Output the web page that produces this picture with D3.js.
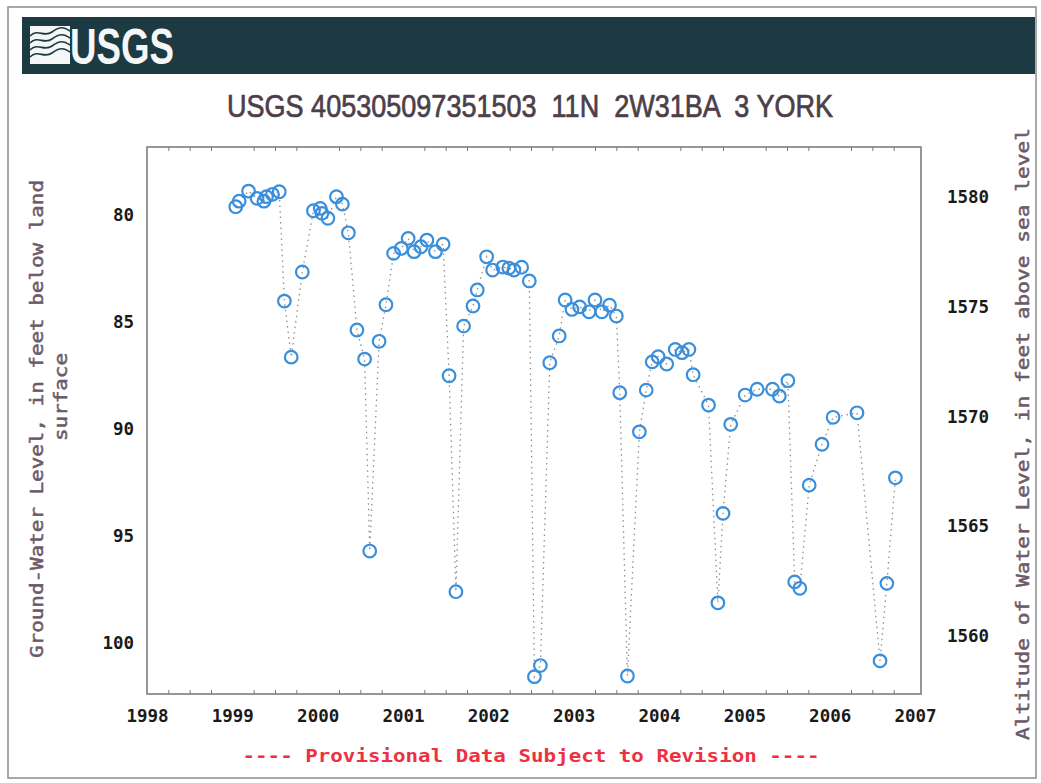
<!DOCTYPE html>
<html>
<head>
<meta charset="utf-8">
<script src="https://cdn.jsdelivr.net/npm/d3@7"></script>
<style>
  html, body { margin: 0; padding: 0; background: #fff; }
  svg { display: block; }
  text { white-space: pre; }
</style>
</head>
<body>
<svg id="chart" width="1041" height="783"></svg>
<script>
// Well 405305097351503 (11N 2W31BA 3 YORK) - ground-water level measurements
const siteTitle = "USGS 405305097351503  11N  2W31BA  3 YORK";
const leftAxisTitle = ["Ground-Water Level, in feet below land", "surface"];
const rightAxisTitle = "Altitude of Water Level, in feet above sea level";
const footerText = "---- Provisional Data Subject to Revision ----";

// Measurement dates (decimal years) and depth to water, feet below land surface
const measDates = [
  1999.04, 1999.08, 1999.19, 1999.29, 1999.37, 1999.40, 1999.47, 1999.55,
  1999.61, 1999.69, 1999.82, 1999.95, 2000.03, 2000.05, 2000.12, 2000.22,
  2000.29, 2000.36, 2000.46, 2000.55, 2000.61, 2000.72, 2000.80, 2000.89,
  2000.98, 2001.06, 2001.13, 2001.21, 2001.28, 2001.38, 2001.47, 2001.54,
  2001.62, 2001.71, 2001.82, 2001.87, 2001.98, 2002.05, 2002.17, 2002.24,
  2002.30, 2002.39, 2002.48, 2002.54, 2002.61, 2002.72, 2002.83, 2002.90,
  2002.98, 2003.07, 2003.18, 2003.25, 2003.33, 2003.42, 2003.50, 2003.54,
  2003.63, 2003.77, 2003.85, 2003.92, 2003.99, 2004.09, 2004.19, 2004.27,
  2004.35, 2004.40, 2004.58, 2004.69, 2004.75, 2004.84, 2005.01, 2005.15,
  2005.33, 2005.41, 2005.51, 2005.59, 2005.65, 2005.76, 2005.91, 2006.04,
  2006.32, 2006.59, 2006.67, 2006.77
];
const depthFt = [
  79.61, 79.35, 78.88, 79.22, 79.35, 79.14, 79.03, 78.91,
  84.02, 86.64, 82.66, 79.80, 79.69, 79.92, 80.15, 79.14,
  79.49, 80.83, 85.37, 86.73, 95.70, 85.90, 84.19, 81.79,
  81.56, 81.09, 81.71, 81.48, 81.17, 81.71, 81.36, 87.51,
  97.60, 85.19, 84.25, 83.50, 81.95, 82.57, 82.43, 82.48,
  82.57, 82.44, 83.08, 101.57, 101.05, 86.90, 85.65, 83.97,
  84.41, 84.29, 84.52, 83.97, 84.52, 84.21, 84.72, 88.30,
  101.54, 90.13, 88.18, 86.86, 86.62, 86.96, 86.28, 86.43,
  86.28, 87.46, 88.88, 98.12, 93.94, 89.78, 88.41, 88.14,
  88.14, 88.46, 87.74, 97.14, 97.44, 92.62, 90.71, 89.45,
  89.24, 100.83, 97.21, 92.28
];

// Axis ticks
const yearTicks = [1998, 1999, 2000, 2001, 2002, 2003, 2004, 2005, 2006, 2007];
const depthTicks = [80, 85, 90, 95, 100];
const altitudeTicks = [1580, 1575, 1570, 1565, 1560];

const svg = d3.select("#chart");
const plot = { left: 147, right: 921, top: 147, bottom: 694 };

// Outer page border
svg.append("rect")
  .attr("x", 8).attr("y", 7).attr("width", 1028).attr("height", 771)
  .attr("fill", "none").attr("stroke", "#8c8c8c").attr("stroke-width", 1.5);

// Header banner with logo
svg.append("rect")
  .attr("x", 22).attr("y", 17).attr("width", 1013).attr("height", 57)
  .attr("fill", "#1d3a42");

const logo = svg.append("g").attr("transform", "translate(30,24)");
logo.append("rect").attr("x", 0).attr("y", 2).attr("width", 40).attr("height", 38).attr("fill", "#f4f7f6");
[8, 15, 22, 29].forEach(function (y0) {
  logo.append("path")
    .attr("d", `M0,${y0 + 4} C8,${y0 - 4} 14,${y0 + 6} 22,${y0} S34,${y0 - 5} 40,${y0 - 1}`)
    .attr("fill", "none").attr("stroke", "#1d3a42").attr("stroke-width", 1.6);
});
logo.append("text")
  .attr("x", 40).attr("y", 40)
  .attr("font-family", "'Liberation Sans Narrow', 'Arial Narrow', 'Liberation Sans', sans-serif")
  .attr("font-weight", "bold").attr("font-size", 50)
  .attr("textLength", 104).attr("lengthAdjust", "spacingAndGlyphs")
  .attr("fill", "#f4f7f6")
  .text("USGS");

// Title
svg.append("text")
  .attr("x", 530).attr("y", 117).attr("text-anchor", "middle")
  .attr("font-family", "'Liberation Sans Narrow', 'Arial Narrow', 'Liberation Sans', sans-serif")
  .attr("font-size", 31)
  .attr("textLength", 606).attr("lengthAdjust", "spacingAndGlyphs")
  .attr("fill", "#4d3f49")
  .attr("stroke", "#4d3f49").attr("stroke-width", 0.7)
  .text(siteTitle);

// Scales
const x = d3.scaleLinear().domain([1998, 2007.07]).range([plot.left, plot.right]);
const y = d3.scaleLinear().domain([76.82, 102.38]).range([plot.top, plot.bottom]);
const yAlt = d3.scaleLinear().domain([1582.28, 1557.36]).range([plot.top, plot.bottom]);

// Plot frame
svg.append("rect")
  .attr("x", plot.left).attr("y", plot.top)
  .attr("width", plot.right - plot.left).attr("height", plot.bottom - plot.top)
  .attr("fill", "none").attr("stroke", "#7d7d7d").attr("stroke-width", 1.6);

// Quarter-year minor ticks on top and bottom frame edges
const quarterTicks = d3.range(1998.25, 2007.05, 0.25).filter(function (t) { return Math.abs(t - Math.round(t)) > 0.01; });
svg.append("g").attr("transform", `translate(0,${plot.bottom})`)
  .call(d3.axisBottom(x).tickValues(quarterTicks).tickSize(-4).tickFormat(""))
  .call(function (g) { g.select(".domain").remove(); g.selectAll("line").attr("stroke", "#777"); });
svg.append("g").attr("transform", `translate(0,${plot.top})`)
  .call(d3.axisTop(x).tickValues(quarterTicks).tickSize(-4).tickFormat(""))
  .call(function (g) { g.select(".domain").remove(); g.selectAll("line").attr("stroke", "#777"); });

const tickFont = "'DejaVu Sans Mono', 'Liberation Mono', monospace";

function styleTicks(g) {
  g.select(".domain").remove();
  g.selectAll("text")
    .attr("font-family", tickFont).attr("font-weight", "bold").attr("font-size", 17.5)
    .attr("fill", "#1a1a1a");
}

// Bottom axis: years
svg.append("g").attr("transform", `translate(0,${plot.bottom})`)
  .call(d3.axisBottom(x).tickValues(yearTicks).tickSize(0).tickPadding(16).tickFormat(d3.format("d")))
  .call(styleTicks);

// Left axis: depth below land surface
svg.append("g").attr("transform", `translate(${plot.left},0)`)
  .call(d3.axisLeft(y).tickValues(depthTicks).tickSize(0).tickPadding(13).tickFormat(d3.format("d")))
  .call(styleTicks);

// Right axis: altitude above sea level
svg.append("g").attr("transform", `translate(${plot.right},0)`)
  .call(d3.axisRight(yAlt).tickValues(altitudeTicks).tickSize(0).tickPadding(26).tickFormat(d3.format("d")))
  .call(styleTicks);

// Axis titles
const titleFont = "'DejaVu Sans Mono', 'Liberation Mono', monospace";
function axisTitle(tx, ty, anchor, len, str) {
  svg.append("text")
    .attr("transform", `translate(${tx},${ty}) rotate(-90)`)
    .attr("text-anchor", anchor)
    .attr("font-family", titleFont).attr("font-size", 17.5)
    .attr("textLength", len).attr("lengthAdjust", "spacingAndGlyphs")
    .attr("fill", "#6c5a6a")
    .attr("stroke", "#6c5a6a").attr("stroke-width", 0.5)
    .text(str);
}
axisTitle(43, 419, "middle", 478, leftAxisTitle[0]);
axisTitle(67, 397, "middle", 88, leftAxisTitle[1]);
axisTitle(1029, 128, "end", 612, rightAxisTitle);

// Footer note
svg.append("text")
  .attr("x", 531).attr("y", 762).attr("text-anchor", "middle")
  .attr("font-family", titleFont).attr("font-size", 18).attr("font-weight", "bold")
  .attr("textLength", 577).attr("lengthAdjust", "spacingAndGlyphs")
  .attr("fill", "#ee3040")
  .text(footerText);

// Measurements
const pts = measDates.map(function (d, i) { return { t: d, v: depthFt[i] }; });

svg.append("path")
  .datum(pts)
  .attr("fill", "none")
  .attr("stroke", "#8f8f8f")
  .attr("stroke-width", 1.3)
  .attr("stroke-dasharray", "1.5,4")
  .attr("d", d3.line().x(function (p) { return x(p.t); }).y(function (p) { return y(p.v); }));

svg.append("g").selectAll("circle")
  .data(pts)
  .join("circle")
  .attr("cx", function (p) { return x(p.t); })
  .attr("cy", function (p) { return y(p.v); })
  .attr("r", 6.3)
  .attr("fill", "none")
  .attr("stroke", "#3a8fdc")
  .attr("stroke-width", 2.2);
</script>
</body>
</html>
